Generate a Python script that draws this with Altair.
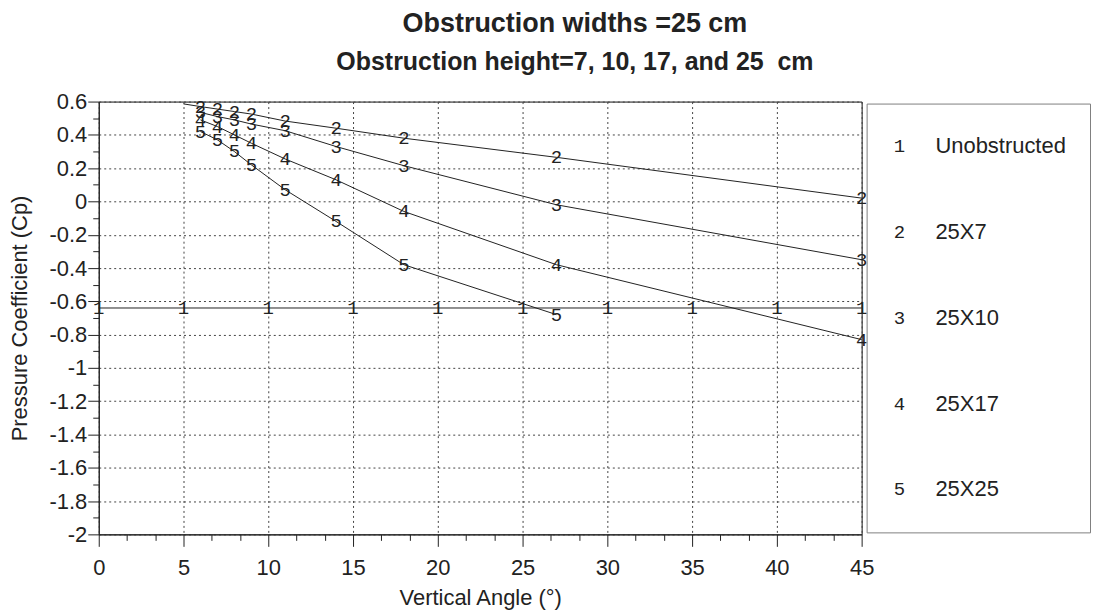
import altair as alt
import pandas as pd

# ---- data ----
angle_1 = [0, 5, 10, 15, 20, 25, 30, 35, 40, 45]
cp_1 = [-0.64, -0.64, -0.64, -0.64, -0.64, -0.64, -0.64, -0.64, -0.64, -0.64]
angle_2 = [5, 6, 7, 8, 9, 11, 14, 18, 27, 45]
cp_2 = [0.586, 0.57, 0.555, 0.54, 0.525, 0.483, 0.44, 0.38, 0.265, 0.02]
angle_3 = [6, 7, 8, 9, 11, 14, 18, 27, 45]
cp_3 = [0.535, 0.51, 0.49, 0.465, 0.425, 0.33, 0.215, -0.02, -0.35]
angle_4 = [6, 7, 8, 9, 11, 14, 18, 27, 45]
cp_4 = [0.49, 0.45, 0.40, 0.35, 0.255, 0.13, -0.06, -0.38, -0.83]
angle_5 = [6, 7, 8, 9, 11, 14, 18, 27]
cp_5 = [0.42, 0.37, 0.30, 0.22, 0.07, -0.12, -0.38, -0.68]

series_ids = ["1", "2", "3", "4", "5"]
series_names = ["Unobstructed", "25X7", "25X10", "25X17", "25X25"]
symbol_from = [0, 6, 6, 6, 6]  # first angle that carries a symbol

x_major = [0, 5, 10, 15, 20, 25, 30, 35, 40, 45]
y_major = [-2, -1.8, -1.6, -1.4, -1.2, -1, -0.8, -0.6, -0.4, -0.2, 0, 0.2, 0.4, 0.6]
x_minor = [i * 5 / 3 for i in range(28) if i % 3]
y_minor = [round(-1.9 + 0.2 * i, 1) for i in range(13)]

title_line_1 = "Obstruction widths =25 cm"
title_line_2 = "Obstruction height=7, 10, 17, and 25\u00a0 cm"
x_title = "Vertical Angle (°)"
y_title = "Pressure Coefficient (Cp)"

# ---- build table ----
rows = []
for sid, angs, cps, sfrom in zip(series_ids,
                                 [angle_1, angle_2, angle_3, angle_4, angle_5],
                                 [cp_1, cp_2, cp_3, cp_4, cp_5],
                                 symbol_from):
    for a, c in zip(angs, cps):
        rows.append({"angle": a, "cp": c, "series": sid, "sym": a >= sfrom})
df = pd.DataFrame(rows)

INK = "#222222"
xs = alt.Scale(domain=[0, 45], nice=False, zero=False)
ys = alt.Scale(domain=[-2, 0.6], nice=False, zero=False)

lines = alt.Chart(df).mark_line(color=INK, strokeWidth=1).encode(
    x=alt.X("angle:Q", scale=xs, axis=alt.Axis(
        orient="bottom", values=x_major, grid=True, gridDash=[2, 3], gridColor="#444444",
        tickSize=12, tickColor=INK, domainColor=INK, labelFontSize=22, labelColor=INK,
        labelFont="Liberation Sans", labelPadding=11, labelFlush=False,
        title=x_title, titleFontSize=22, titleFontWeight="normal", titleColor=INK,
        titleFont="Liberation Sans", titleY=53, titleX=382.5)),
    y=alt.Y("cp:Q", scale=ys, axis=alt.Axis(
        orient="left", values=y_major, grid=True, gridDash=[2, 3], gridColor="#444444",
        tickSize=11, tickColor=INK, domainColor=INK, labelFontSize=22, labelColor=INK,
        labelFont="Liberation Sans", labelPadding=1, labelFlush=False,
        labelExpr="toString(round(datum.value*10)/10)",
        title=y_title, titleFontSize=22, titleFontWeight="normal", titleColor=INK,
        titleFont="Liberation Sans", titleX=-67, titleY=217)),
    detail="series:N",
)

minor = alt.Chart(df).mark_line(opacity=0).encode(
    x=alt.X("angle:Q", scale=xs, axis=alt.Axis(
        orient="bottom", values=x_minor, grid=False, labels=False, domain=False,
        tickSize=6, tickColor=INK, title=None)),
    y=alt.Y("cp:Q", scale=ys, axis=alt.Axis(
        orient="left", values=y_minor, grid=False, labels=False, domain=False,
        tickSize=6, tickColor=INK, title=None)),
    detail="series:N",
)

symbols = alt.Chart(df).transform_filter("datum.sym").mark_text(
    font="Liberation Mono", fontSize=19, color=INK, align="center", baseline="middle"
).encode(
    x=alt.X("angle:Q", scale=xs, axis=None),
    y=alt.Y("cp:Q", scale=ys, axis=None),
    text="series:N",
)

plot = alt.layer(minor, lines, symbols).resolve_axis(
    x="independent", y="independent"
).properties(
    width=765, height=434,
    view=alt.ViewBackground(stroke="#111111", strokeWidth=1),
    title=alt.TitleParams(text=title_line_1, fontSize=27, fontWeight="bold",
                          font="Liberation Sans", color=INK, anchor="middle",
                          frame="group", dx=95, offset=15,
                          subtitle=title_line_2, subtitleFontSize=25,
                          subtitleFontWeight="bold", subtitleFont="Liberation Sans",
                          subtitleColor=INK, subtitlePadding=12),
)

leg_df = pd.DataFrame({"id": series_ids, "name": series_names})
leg_y = alt.Y("name:N", sort=series_names, axis=None,
              scale=alt.Scale(type="point", padding=0.5))
leg_base = alt.Chart(leg_df)
leg_num = leg_base.mark_text(font="Liberation Mono", fontSize=19, color=INK,
                             align="center", baseline="middle").encode(
    x=alt.value(33), y=leg_y, text="id:N")
leg_lab = leg_base.mark_text(font="Liberation Sans", fontSize=22, color=INK,
                             align="left", baseline="middle").encode(
    x=alt.value(69), y=leg_y, text="name:N")
legend = alt.layer(leg_num, leg_lab).properties(
    width=224, height=430,
    view=alt.ViewBackground(stroke="#808080", strokeWidth=1),
)

chart = alt.hconcat(plot, legend, spacing=5, bounds="flush", center=True).properties(
    padding={"left": 0, "top": 0, "right": 0, "bottom": 0}
).configure(background="white")

chart.save("out.html", embed_options={"renderer": "svg", "actions": False})
